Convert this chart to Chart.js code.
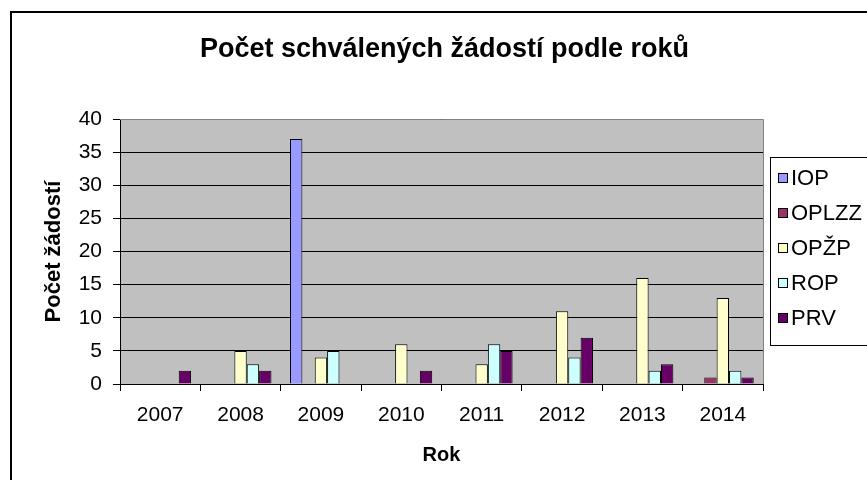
<!DOCTYPE html>
<html>
<head>
<meta charset="utf-8">
<script src="https://cdn.jsdelivr.net/npm/chart.js@4.4.1/dist/chart.umd.min.js"></script>
<style>
html,body{margin:0;padding:0;background:#fff;}
#c{display:block;}
</style>
</head>
<body>
<canvas id="c" width="867" height="480"></canvas>
<script>
// ---- data ----
const categories = ['2007','2008','2009','2010','2011','2012','2013','2014'];
const seriesNames = ['IOP','OPLZZ','OPŽP','ROP','PRV'];
const valuesIOP   = [null, null, 37, null, null, null, null, null];
const valuesOPLZZ = [null, null, null, null, null, null, null, 1];
const valuesOPZP  = [null, 5, 4, 6, 3, 11, 16, 13];
const valuesROP   = [null, 3, 5, null, 6, 4, 2, 2];
const valuesPRV   = [2, 2, null, 2, 5, 7, 3, 1];
const yTicks = [0,5,10,15,20,25,30,35,40];
const titleText = 'Počet schválených žádostí podle roků';
const xTitle = 'Rok';
const yTitle = 'Počet žádostí';

const colors = ['#9999FF','#993366','#FFFFCC','#CCFFFF','#660066'];
const allValues = [valuesIOP, valuesOPLZZ, valuesOPZP, valuesROP, valuesPRV];
const FONT = '"Liberation Sans", Arial, sans-serif';

const decor = {
  id: 'decor',
  beforeDraw(chart) {
    const {ctx, chartArea: a} = chart;
    ctx.save();
    ctx.fillStyle = '#fff';
    ctx.fillRect(0, 0, chart.width, chart.height);
    ctx.fillStyle = '#C0C0C0';
    ctx.fillRect(a.left, a.top, a.right - a.left, a.bottom - a.top);
    ctx.restore();
  },
  beforeDatasetsDraw(chart) {
    const {ctx, chartArea: a} = chart;
    ctx.save();
    ctx.strokeStyle = '#808080';
    ctx.lineWidth = 1;
    ctx.beginPath();
    ctx.moveTo(a.left, a.top + 0.5);
    ctx.lineTo(a.right + 0.5, a.top + 0.5);
    ctx.lineTo(a.right + 0.5, a.bottom);
    ctx.stroke();
    ctx.restore();
  },
  afterDraw(chart) {
    const {ctx} = chart;
    ctx.save();
    // outer border
    ctx.strokeStyle = '#000';
    ctx.lineWidth = 2;
    ctx.strokeRect(11, 12, 900, 500);
    // title
    ctx.fillStyle = '#000';
    ctx.font = 'bold 27px ' + FONT;
    ctx.textAlign = 'center';
    ctx.textBaseline = 'alphabetic';
    ctx.fillText(titleText, 444.5, 57);
    // legend
    ctx.fillStyle = '#fff';
    ctx.fillRect(770.5, 157.5, 120, 188);
    ctx.strokeStyle = '#000';
    ctx.lineWidth = 1;
    ctx.strokeRect(770.5, 157.5, 120, 188);
    ctx.font = '22px ' + FONT;
    ctx.textAlign = 'left';
    ctx.textBaseline = 'middle';
    chart.data.datasets.forEach((ds, i) => {
      const cy = 178 + i * 35;
      ctx.fillStyle = ds.backgroundColor;
      ctx.fillRect(778.5, cy - 4.5, 9, 9);
      ctx.strokeStyle = '#000';
      ctx.strokeRect(778.5, cy - 4.5, 9, 9);
      ctx.fillStyle = '#000';
      ctx.fillText(ds.label, 791, cy + 1);
    });
    ctx.restore();
  }
};

new Chart(document.getElementById('c'), {
  type: 'bar',
  data: {
    labels: categories,
    datasets: seriesNames.map((n, i) => ({
      label: n,
      data: allValues[i],
      backgroundColor: colors[i],
      borderColor: '#000',
      borderWidth: 1,
      categoryPercentage: 5 / 6.5,
      barPercentage: 1
    }))
  },
  options: {
    responsive: false,
    animation: false,
    devicePixelRatio: 1,
    layout: { padding: { left: 0, top: 119, right: 104, bottom: 0 } },
    plugins: { legend: { display: false }, title: { display: false }, tooltip: { enabled: false } },
    scales: {
      x: {
        offset: true,
        grid: { drawOnChartArea: false, drawTicks: true, tickLength: 7, color: '#000', offset: true },
        border: { display: true, color: '#000', width: 1 },
        ticks: { color: '#000', font: { family: FONT, size: 21 }, padding: 12, maxRotation: 0 },
        title: { display: true, text: xTitle, color: '#000', font: { family: FONT, size: 20, weight: 'bold' }, padding: { top: 0, bottom: 13 } },
        afterFit(s) { s.height = 96; }
      },
      y: {
        min: 0, max: 40,
        afterBuildTicks(s) { s.ticks = yTicks.map(v => ({ value: v })); },
        grid: { color: '#000', drawTicks: true, tickLength: 7 },
        border: { display: true, color: '#000', width: 1 },
        ticks: { color: '#000', font: { family: FONT, size: 21 }, padding: 11 },
        title: { display: true, text: yTitle, color: '#000', font: { family: FONT, size: 22, weight: 'bold' }, padding: { top: 41, bottom: 0 } },
        afterFit(s) { s.width = 120; }
      }
    }
  },
  plugins: [decor]
});
</script>
</body>
</html>
